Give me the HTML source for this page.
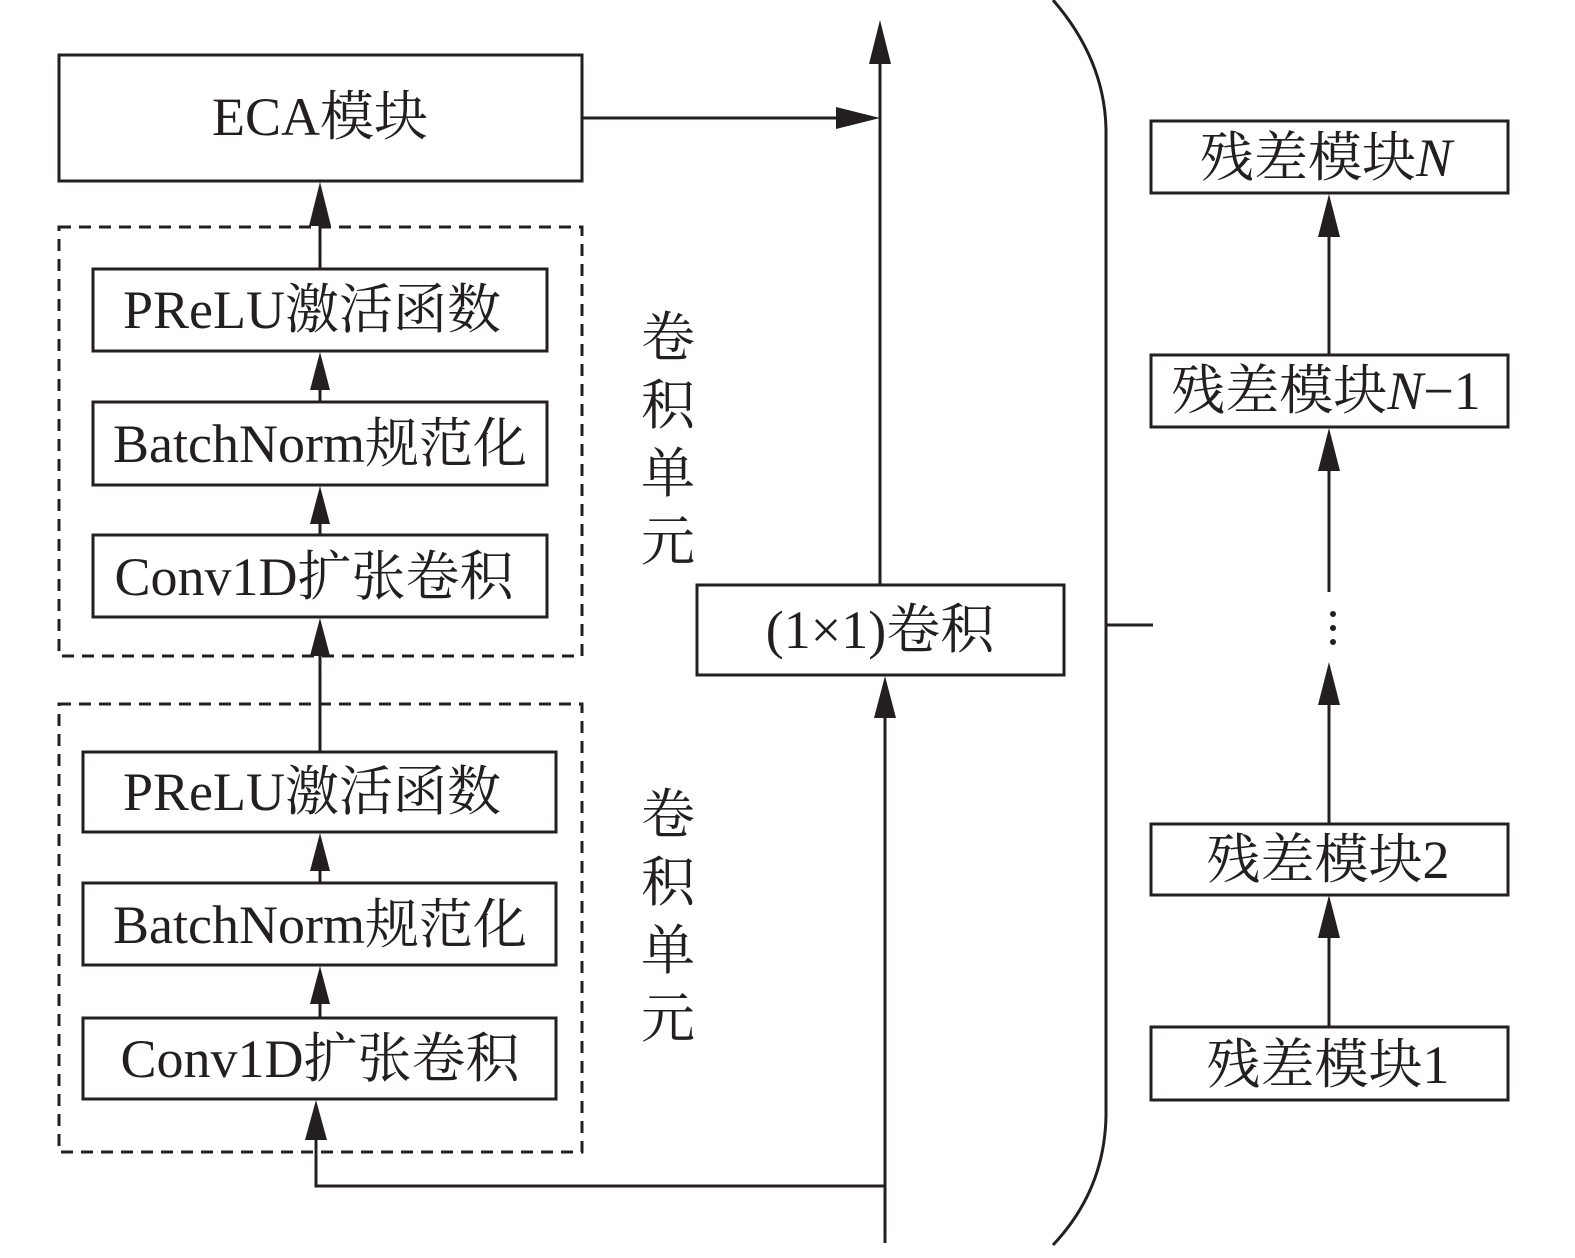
<!DOCTYPE html>
<html><head><meta charset="utf-8"><style>
html,body{margin:0;padding:0;background:#fff;}
svg text{font-family:"Liberation Serif","Noto Serif CJK SC",serif;fill:#231f20;}
</style></head><body>
<svg width="1575" height="1253" viewBox="0 0 1575 1253" xmlns="http://www.w3.org/2000/svg">
<g stroke="#231f20" stroke-width="3" fill="none">
<rect x="59" y="55" width="523" height="126"/>
<rect x="59" y="227" width="523" height="429" stroke-dasharray="12,8"/>
<rect x="59" y="704" width="523" height="448" stroke-dasharray="12,8"/>
<rect x="93" y="269" width="454" height="82"/>
<rect x="93" y="402" width="454" height="83"/>
<rect x="93" y="535" width="454" height="82"/>
<rect x="83" y="752" width="473" height="80"/>
<rect x="83" y="883" width="473" height="82"/>
<rect x="83" y="1018" width="473" height="81"/>
<rect x="697" y="585" width="367" height="90"/>
<rect x="1151" y="121" width="357" height="72"/>
<rect x="1151" y="355" width="357" height="72"/>
<rect x="1151" y="824" width="357" height="71"/>
<rect x="1151" y="1027" width="357" height="73"/>
<line x1="320" y1="269" x2="320" y2="200"/>
<line x1="320" y1="402" x2="320" y2="370"/>
<line x1="320" y1="535" x2="320" y2="504"/>
<line x1="320" y1="752" x2="320" y2="636"/>
<line x1="320" y1="883" x2="320" y2="851"/>
<line x1="320" y1="1018" x2="320" y2="984"/>
<polyline points="316,1118 316,1186 885,1186"/>
<line x1="885" y1="1243" x2="885" y2="694"/>
<line x1="880" y1="585" x2="880" y2="40"/>
<line x1="582" y1="118" x2="858" y2="118"/>
<line x1="1329" y1="1027" x2="1329" y2="914"/>
<line x1="1329" y1="824" x2="1329" y2="682"/>
<line x1="1329" y1="592" x2="1329" y2="446"/>
<line x1="1329" y1="355" x2="1329" y2="212"/>
<path d="M1053,0 Q1105,60 1106,130 L1106,1115 Q1105,1190 1053,1245"/>
<line x1="1106" y1="625" x2="1153" y2="625"/>
</g>
<g fill="#231f20">
<polygon points="320,182 309,226 331,226"/>
<polygon points="320,352 310,390 330,390"/>
<polygon points="320,486 310,524 330,524"/>
<polygon points="320,618 310,656 330,656"/>
<polygon points="320,833 310,871 330,871"/>
<polygon points="320,966 310,1004 330,1004"/>
<polygon points="316,1100 305,1140 327,1140"/>
<polygon points="885,676 874,718 896,718"/>
<polygon points="880,20 869,64 891,64"/>
<polygon points="880,118 836,107 836,129"/>
<polygon points="1329,895 1318,938 1340,938"/>
<polygon points="1329,662 1318,705 1340,705"/>
<polygon points="1329,428 1318,471 1340,471"/>
<polygon points="1329,194 1318,237 1340,237"/>
<circle cx="1333" cy="614" r="3"/>
<circle cx="1333" cy="628" r="3"/>
<circle cx="1333" cy="642" r="3"/>
</g>
<g font-size="54" text-anchor="middle">
<text x="320" y="135">ECA模块</text>
<text x="312" y="328">PReLU激活函数</text>
<text x="320" y="462">BatchNorm规范化</text>
<text x="314" y="595">Conv1D扩张卷积</text>
<text x="312" y="810">PReLU激活函数</text>
<text x="320" y="943">BatchNorm规范化</text>
<text x="320" y="1077">Conv1D扩张卷积</text>
<text x="880" y="648">(1×1)卷积</text>
<text x="1326" y="176">残差模块<tspan font-style="italic">N</tspan></text>
<text x="1326" y="409">残差模块<tspan font-style="italic">N</tspan>−1</text>
<text x="1328" y="878">残差模块2</text>
<text x="1328" y="1083">残差模块1</text>
<text x="668" y="356">卷</text>
<text x="668" y="424">积</text>
<text x="668" y="492">单</text>
<text x="668" y="560">元</text>
<text x="668" y="833">卷</text>
<text x="668" y="901">积</text>
<text x="668" y="969">单</text>
<text x="668" y="1037">元</text>
</g>
</svg>
</body></html>
